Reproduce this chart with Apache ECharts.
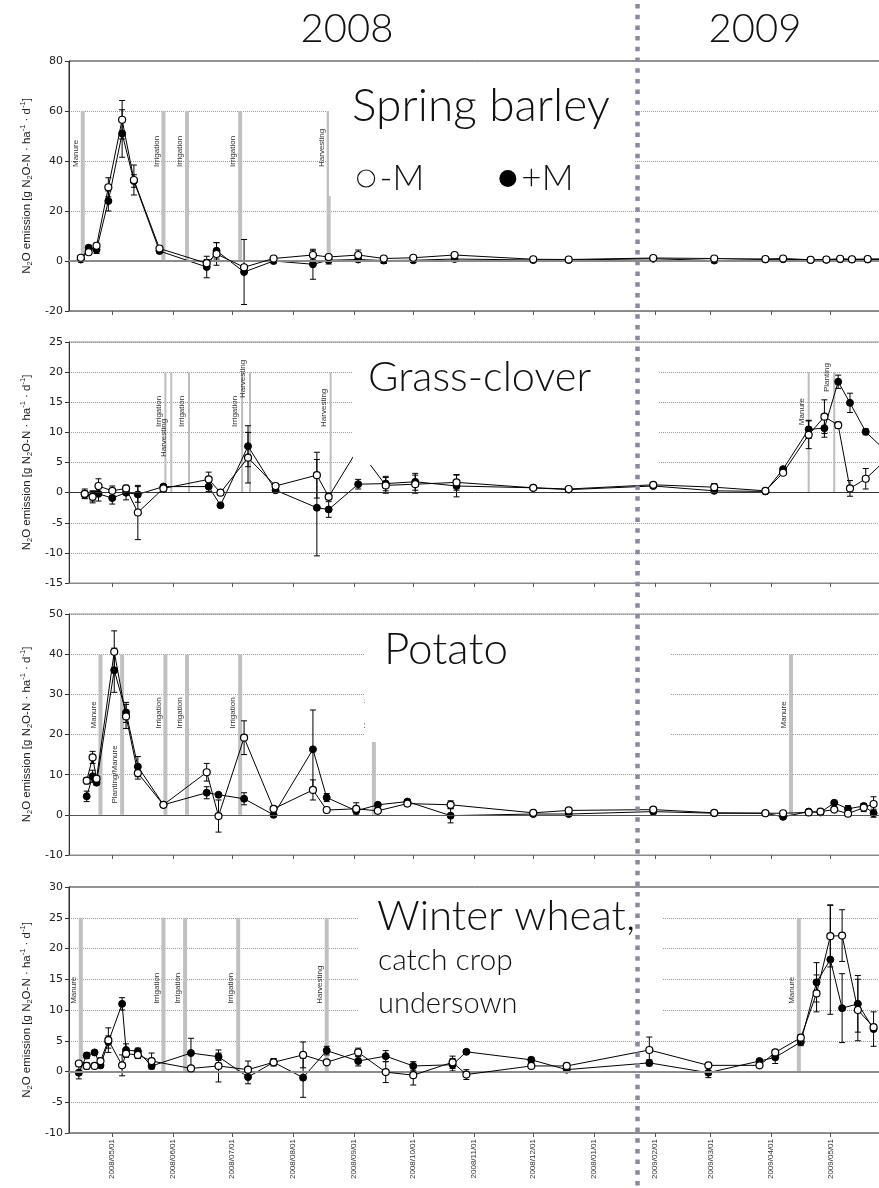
<!DOCTYPE html>
<html>
<head>
<meta charset="utf-8">
<script src="https://cdn.jsdelivr.net/npm/echarts@6/dist/echarts.min.js"></script>
<style>
  html, body { margin: 0; padding: 0; background: #fff; }
  #chart { width: 879px; height: 1188px; }
</style>
</head>
<body>
<div id="chart"></div>
<script>
// ---------- time axis ----------
const tickDates  = ['2008-05-01','2008-06-01','2008-07-01','2008-08-01','2008-09-01','2008-10-01','2008-11-01','2008-12-01','2009-01-01','2009-02-01','2009-03-01','2009-04-01','2009-05-01'];
const tickLabels = ['2008/05/01','2008/06/01','2008/07/01','2008/08/01','2008/09/01','2008/10/01','2008/11/01','2008/12/01','2008/01/01','2009/02/01','2009/03/01','2009/04/01','2009/05/01'];
const axisStart = '2008-04-09';
const axisEnd   = '2009-06-10';
const yearSplit = '2009-01-23';
const yearLabels = ['2008', '2009'];

// ---------- Spring barley ----------
const barleyDates = ['2008-04-15','2008-04-19','2008-04-23','2008-04-29','2008-05-06','2008-05-12','2008-05-25','2008-06-18','2008-06-23','2008-07-07','2008-07-22','2008-08-11','2008-08-19','2008-09-03','2008-09-16','2008-10-01','2008-10-22','2008-12-01','2008-12-19','2009-01-31','2009-03-03','2009-03-29','2009-04-07','2009-04-21','2009-04-29','2009-05-06','2009-05-12','2009-05-20','2009-06-02'];
const barleyMinusM = [1.3,3.5,6.1,29.5,56.5,32.4,5.0,-0.9,2.8,-2.5,1.0,2.4,1.6,2.4,1.0,1.3,2.4,0.7,0.6,1.2,1.0,0.8,1.0,0.5,0.6,0.9,0.7,0.8,0.9];
const barleyPlusM  = [0.6,5.3,4.5,24.0,51.0,32.0,4.0,-2.4,4.1,-4.4,0.0,-1.3,0.3,0.6,0.2,0.3,0.8,0.4,0.4,0.9,0.2,0.6,0.7,0.4,0.5,0.7,0.6,0.6,0.7];
const barleySdMinusM = [null,0.8,1.0,3.8,7.7,6.0,null,1.5,4.5,null,0.5,1.7,null,2.0,null,null,null,null,null,null,null,null,null,null,null,null,null,null,null];
const barleySdPlusM  = [0.5,1.0,1.5,4.0,9.5,2.5,null,4.3,3.3,13.0,null,6.0,1.5,null,1.2,null,null,null,null,null,null,null,null,null,null,null,null,null,null];
const barleyEventDates = ['2008-04-16','2008-05-27','2008-06-08','2008-07-05','2008-08-19'];
const barleyEventNames = ['Manure','Irrigation','Irrigation','Irrigation','Harvesting'];

// ---------- Grass-clover ----------
const grassDates = ['2008-04-17','2008-04-21','2008-04-24','2008-05-01','2008-05-08','2008-05-14','2008-05-27','2008-06-19','2008-06-25','2008-07-09','2008-07-23','2008-08-13','2008-08-19','2008-09-03','2008-09-17','2008-10-02','2008-10-23','2008-12-01','2008-12-19','2009-01-31','2009-03-03','2009-03-29','2009-04-07','2009-04-20','2009-04-28','2009-05-05','2009-05-11','2009-05-19','2009-06-02'];
const grassMinusM = [-0.2,-0.7,1.1,0.3,0.7,-3.3,0.7,2.2,0.0,5.8,1.1,2.9,-0.7,7.3,1.2,1.4,1.7,0.8,0.6,1.3,0.9,0.3,3.3,9.6,12.6,11.2,0.7,2.3,6.6];
const grassPlusM  = [-0.3,-0.6,-0.2,-0.9,0.0,-0.3,1.0,1.0,-2.1,7.7,0.4,-2.5,-2.8,1.4,1.5,1.8,1.1,0.8,0.5,1.1,0.3,0.2,3.9,10.5,10.7,18.4,14.9,10.1,5.7];
const grassSdMinusM = [0.8,1.0,1.2,0.8,0.5,4.5,0.5,1.2,0.4,4.2,0.4,3.8,0.5,null,1.3,1.5,1.3,null,null,null,0.6,null,null,2.3,2.8,0.5,1.3,1.7,null];
const grassSdPlusM  = [0.6,0.8,1.2,1.0,1.2,1.3,0.3,0.8,0.3,3.4,0.4,8.0,1.3,0.8,1.2,1.4,1.8,null,null,null,null,null,0.3,1.5,1.5,1.1,1.6,0.5,null];
const grassEventDates = ['2008-05-28','2008-05-31','2008-06-09','2008-07-06','2008-07-10','2008-08-20','2009-04-20','2009-05-03'];
const grassEventNames = ['Irrigation','Harvesting','Irrigation','Irrigation','Harvesting','Harvesting','Manure','Planting'];

// ---------- Potato ----------
const potatoDates = ['2008-04-18','2008-04-21','2008-04-23','2008-05-02','2008-05-08','2008-05-14','2008-05-27','2008-06-18','2008-06-24','2008-07-07','2008-07-22','2008-08-11','2008-08-18','2008-09-02','2008-09-13','2008-09-28','2008-10-20','2008-12-01','2008-12-19','2009-01-31','2009-03-03','2009-03-29','2009-04-07','2009-04-20','2009-04-26','2009-05-03','2009-05-10','2009-05-18','2009-05-23'];
const potatoMinusM = [8.5,14.3,9.0,40.6,24.5,10.4,2.5,10.6,-0.3,19.2,1.5,6.2,1.2,1.5,1.0,2.8,2.5,0.5,1.1,1.3,0.5,0.4,0.4,0.6,0.8,1.3,0.3,1.8,2.7];
const potatoPlusM  = [4.6,9.6,8.0,36.0,25.5,12.0,2.5,5.5,5.0,4.0,0.0,16.3,4.3,1.0,2.5,3.3,-0.2,0.2,0.2,0.8,0.4,0.4,-0.5,0.8,0.6,3.0,1.5,2.2,0.4];
const potatoSdMinusM = [0.8,1.5,null,5.2,3.0,1.5,null,2.2,4.0,4.2,0.5,2.5,0.5,1.5,null,0.6,1.0,null,null,null,null,null,null,null,null,null,0.6,1.0,1.8];
const potatoSdPlusM  = [1.3,1.5,null,5.5,2.5,2.5,null,1.5,null,1.5,null,9.8,1.0,null,0.5,0.5,1.8,null,null,0.5,null,null,0.5,null,null,0.3,0.8,0.6,1.0];
const potatoEventDates = ['2008-04-25','2008-05-06','2008-05-28','2008-06-08','2008-07-05','2008-09-11','2009-04-11'];
const potatoEventNames = ['Manure','Planting/Manure','Irrigation','Irrigation','Irrigation','Harvesting','Manure'];

// ---------- Winter wheat ----------
const wheatDates = ['2008-04-14','2008-04-18','2008-04-22','2008-04-25','2008-04-29','2008-05-06','2008-05-08','2008-05-14','2008-05-21','2008-06-10','2008-06-24','2008-07-09','2008-07-22','2008-08-06','2008-08-18','2008-09-03','2008-09-17','2008-10-01','2008-10-21','2008-10-28','2008-11-30','2008-12-18','2009-01-29','2009-02-28','2009-03-26','2009-04-03','2009-04-16','2009-04-24','2009-05-01','2009-05-07','2009-05-15','2009-05-23'];
const wheatMinusM = [1.3,0.9,0.9,1.7,5.1,1.0,2.9,2.7,1.7,0.5,0.9,0.3,1.5,2.7,1.5,3.1,-0.1,-0.6,1.5,-0.5,0.9,0.9,3.5,1.0,1.0,3.1,5.5,12.7,22.0,22.1,10.0,7.2];
const wheatPlusM  = [-0.2,2.6,3.1,1.0,4.8,11.0,3.5,3.3,0.9,3.0,2.4,-0.9,1.5,-1.0,3.4,1.7,2.5,0.9,1.1,3.2,1.9,0.3,1.4,-0.2,1.7,2.3,4.8,14.5,18.2,10.3,11.0,6.9];
const wheatSdMinusM = [null,0.5,null,0.5,2.0,1.7,0.6,0.6,1.3,null,2.6,1.4,0.6,2.1,null,0.7,1.7,1.6,1.0,0.8,null,null,2.1,null,null,null,0.5,3.0,5.0,4.2,5.0,null];
const wheatSdPlusM  = [1.0,0.5,null,0.4,1.0,1.0,1.0,0.5,null,2.4,0.6,1.1,0.5,3.2,0.7,0.8,0.9,0.7,1.0,0.3,0.4,null,0.5,0.8,null,1.0,0.6,3.2,8.9,5.6,4.6,2.8];
const wheatEventDates = ['2008-04-15','2008-05-27','2008-06-07','2008-07-04','2008-08-18','2009-04-15'];
const wheatEventNames = ['Manure','Irrigation','Irrigation','Irrigation','Harvesting','Manure'];

// ---------- helpers ----------
function toTime(s) {
  const p = s.split('-').map(Number);
  return Date.UTC(p[0], p[1] - 1, p[2]);
}
const tickTimes = tickDates.map(toTime);
function tickText(v) {
  for (let i = 0; i < tickTimes.length; i++) {
    if (Math.abs(tickTimes[i] - v) < 43200000) return tickLabels[i];
  }
  return '';
}

const FONT_AX = 'Liberation Sans, Arial, sans-serif';
const FONT_BIG = 'Lato, sans-serif';

// the plotting area runs past the right edge of the page
const PLOT_LEFT = 69;
const PLOT_WIDTH = 840;

// layout and styling of each panel (pixel geometry, axis ranges, event label heights)
const panels = [
  { dates: barleyDates, minus: barleyMinusM, plus: barleyPlusM, sdMinus: barleySdMinusM, sdPlus: barleySdPlusM,
    evDates: barleyEventDates, evNames: barleyEventNames, evLabelAt: [37.6,37.6,37.6,37.6,37.6], evTop: 60,
    yMin: -20, yMax: 80, yStep: 20, top: 61, height: 250, barW: 4, barColor: '#c0c0c0',
    zeroColor: '#8c8c8c', zeroWidth: 2, frame: '#222' },
  { dates: grassDates, minus: grassMinusM, plus: grassPlusM, sdMinus: grassSdMinusM, sdPlus: grassSdPlusM,
    evDates: grassEventDates, evNames: grassEventNames, evLabelAt: [10.9,5.9,10.9,10.9,15.7,10.9,11.2,16.7], evTop: 20,
    yMin: -15, yMax: 25, yStep: 5, top: 342, height: 241, barW: 2, barColor: '#bdbdbd',
    zeroColor: '#333', zeroWidth: 1, frame: '#888' },
  { dates: potatoDates, minus: potatoMinusM, plus: potatoPlusM, sdMinus: potatoSdMinusM, sdPlus: potatoSdPlusM,
    evDates: potatoEventDates, evNames: potatoEventNames, evLabelAt: [21.5,2.8,21.5,21.5,21.5,21.5,21.5], evTop: 40,
    yMin: -10, yMax: 50, yStep: 10, top: 614, height: 241, barW: 4, barColor: '#c0c0c0',
    zeroColor: '#555', zeroWidth: 1, frame: '#888' },
  { dates: wheatDates, minus: wheatMinusM, plus: wheatPlusM, sdMinus: wheatSdMinusM, sdPlus: wheatSdPlusM,
    evDates: wheatEventDates, evNames: wheatEventNames, evLabelAt: [11,11,11,11,11,11], evTop: 25,
    yMin: -10, yMax: 30, yStep: 5, top: 887, height: 246, barW: 4, barColor: '#c0c0c0',
    zeroColor: '#8c8c8c', zeroWidth: 2, frame: '#222' }
];

const yName = 'N{s|2}O emission [g N{s|2}O-N · ha{p|-1} · d{p|-1}]';

const grids = [], xAxes = [], yAxes = [], series = [];

panels.forEach((p, i) => {
  grids.push({ left: PLOT_LEFT, width: PLOT_WIDTH, top: p.top, height: p.height, show: true,
               containLabel: false, outerBoundsMode: 'none',
               borderColor: p.frame, borderWidth: 1, backgroundColor: 'transparent' });
  xAxes.push({
    gridIndex: i, type: 'value', min: toTime(axisStart), max: toTime(axisEnd),
    axisLine: { show: true, onZero: false, lineStyle: { color: '#888', width: 1 } },
    axisTick: { show: true, customValues: tickTimes, length: 4, inside: false, lineStyle: { color: '#555' } },
    axisLabel: { show: i === 3, customValues: tickTimes, rotate: 90, formatter: tickText,
                 fontSize: 8, fontFamily: FONT_AX, color: '#333', margin: 6 },
    splitLine: { show: false }
  });
  yAxes.push({
    gridIndex: i, type: 'value', min: p.yMin, max: p.yMax, interval: p.yStep,
    axisLine: { show: true, lineStyle: { color: '#333' } },
    axisTick: { show: true, length: 4, lineStyle: { color: '#333' } },
    axisLabel: { fontSize: 11, fontFamily: 'DejaVu Sans, sans-serif', color: '#222', margin: 6 },
    splitLine: { show: true, lineStyle: { type: 'dotted', color: '#9a9a9a', width: 1 } },
    name: yName, nameLocation: 'middle', nameGap: 30,
    nameTextStyle: {
      fontFamily: FONT_AX, fontSize: 11.5, color: '#222', lineHeight: 15,
      rich: {
        s: { fontFamily: FONT_AX, fontSize: 7.5, color: '#222', lineHeight: 9, verticalAlign: 'bottom' },
        p: { fontFamily: FONT_AX, fontSize: 7.5, color: '#222', lineHeight: 9, verticalAlign: 'top' }
      }
    }
  });

  // management events: grey bars from 0 to evTop with rotated captions
  const evData = p.evDates.map((d, k) => [toTime(d), p.evLabelAt[k]]);
  series.push({
    type: 'custom', xAxisIndex: i, yAxisIndex: i, z: 1, silent: true,
    data: evData,
    encode: { x: 0, y: 1 },
    renderItem: (params, api) => {
      const t = api.value(0);
      const base = api.coord([t, 0]);
      const topPt = api.coord([t, p.evTop]);
      const lab = api.coord([t, api.value(1)]);
      return {
        type: 'group',
        children: [
          { type: 'rect', shape: { x: base[0] - p.barW / 2, y: topPt[1], width: p.barW, height: base[1] - topPt[1] },
            style: { fill: p.barColor } },
          { type: 'text', x: base[0] - 7, y: lab[1], rotation: Math.PI / 2,
            style: { text: p.evNames[params.dataIndex], fontSize: 8, fontFamily: FONT_AX, fill: '#333',
                     align: 'left', verticalAlign: 'middle' } }
        ]
      };
    },
    markLine: {
      silent: true, symbol: 'none', label: { show: false },
      lineStyle: { type: 'solid', color: p.zeroColor, width: p.zeroWidth },
      data: [{ yAxis: 0 }]
    }
  });

  // error bars (mean ± deviation) for both treatments
  [[p.minus, p.sdMinus], [p.plus, p.sdPlus]].forEach(([vals, sds]) => {
    const data = [];
    p.dates.forEach((d, k) => { if (sds[k] != null && vals[k] != null) data.push([toTime(d), vals[k], sds[k]]); });
    series.push({
      type: 'custom', xAxisIndex: i, yAxisIndex: i, z: 3, silent: true,
      data, encode: { x: 0, y: 1 },
      renderItem: (params, api) => {
        const t = api.value(0), v = api.value(1), s = api.value(2);
        const hi = api.coord([t, v + s]), lo = api.coord([t, v - s]);
        const x = hi[0], c = 3;
        const st = { stroke: '#000', lineWidth: 1 };
        return {
          type: 'group',
          children: [
            { type: 'line', shape: { x1: x, y1: hi[1], x2: x, y2: lo[1] }, style: st },
            { type: 'line', shape: { x1: x - c, y1: hi[1], x2: x + c, y2: hi[1] }, style: st },
            { type: 'line', shape: { x1: x - c, y1: lo[1], x2: x + c, y2: lo[1] }, style: st }
          ]
        };
      }
    });
  });

  series.push({
    name: '+M', type: 'line', xAxisIndex: i, yAxisIndex: i, z: 4,
    data: p.dates.map((d, k) => [toTime(d), p.plus[k]]),
    symbol: 'circle', symbolSize: 7, showSymbol: true, connectNulls: true,
    lineStyle: { color: '#000', width: 1 },
    itemStyle: { color: '#000', borderColor: '#000', borderWidth: 1 },
    emphasis: { disabled: true }, animation: false
  });
  series.push({
    name: '-M', type: 'line', xAxisIndex: i, yAxisIndex: i, z: 5,
    data: p.dates.map((d, k) => [toTime(d), p.minus[k]]),
    symbol: 'circle', symbolSize: 7, showSymbol: true, connectNulls: true,
    lineStyle: { color: '#000', width: 1 },
    itemStyle: { color: '#fff', borderColor: '#000', borderWidth: 1.2 },
    emphasis: { disabled: true }, animation: false
  });
});

const chart = echarts.init(document.getElementById('chart'), null, { renderer: 'canvas' });
chart.setOption({
  animation: false,
  backgroundColor: '#fff',
  grid: grids, xAxis: xAxes, yAxis: yAxes, series,
  legend: {
    data: [
      { name: '-M', icon: 'circle', itemStyle: { color: '#fff', borderColor: '#111', borderWidth: 1.2 } },
      { name: '+M', icon: 'circle', itemStyle: { color: '#000', borderWidth: 0 } }
    ],
    left: 352, top: 156, itemWidth: 17, itemHeight: 17, itemGap: 75, selectedMode: false, z: 120,
    textStyle: { fontFamily: FONT_BIG, fontWeight: 300, fontSize: 35, color: '#111' }
  }
});

// title boxes, crop names, year headings and the year divider
const sepX = chart.convertToPixel({ xAxisIndex: 0 }, toTime(yearSplit));
const boxes = [
  [329, 66, 305, 130], [353, 345, 305, 120], [365, 622, 305, 120], [358, 890, 304, 140]
];
const titles = [
  ['Spring barley', 352, 106, 46], ['Grass-clover', 368, 378, 41.5], ['Potato', 384, 650, 44],
  ['Winter wheat,', 377, 916, 42], ['catch crop', 378, 960, 30], ['undersown', 378, 1004, 29]
];
const graphic = [];
boxes.forEach(b => graphic.push({ type: 'rect', z: 100, silent: true,
  shape: { x: b[0], y: b[1], width: b[2], height: b[3] }, style: { fill: '#fff' } }));
titles.forEach(t => graphic.push({ type: 'text', z: 105, silent: true, x: t[1], y: t[2],
  style: { text: t[0], fontFamily: FONT_BIG, fontWeight: 300, fontSize: t[3], fill: '#111', align: 'left', verticalAlign: 'middle' } }));
graphic.push({ type: 'text', z: 105, silent: true, x: 347, y: 29,
  style: { text: yearLabels[0], fontFamily: FONT_BIG, fontWeight: 300, fontSize: 40, fill: '#111', align: 'center', verticalAlign: 'middle' } });
graphic.push({ type: 'text', z: 105, silent: true, x: 755, y: 29,
  style: { text: yearLabels[1], fontFamily: FONT_BIG, fontWeight: 300, fontSize: 40, fill: '#111', align: 'center', verticalAlign: 'middle' } });
graphic.push({ type: 'line', z: 110, silent: true,
  shape: { x1: sepX, y1: 4, x2: sepX, y2: 1188 },
  style: { stroke: '#8a8a9c', lineWidth: 4.5, lineDash: [4.5, 6.2] } });

chart.setOption({ graphic });
</script>
</body>
</html>
